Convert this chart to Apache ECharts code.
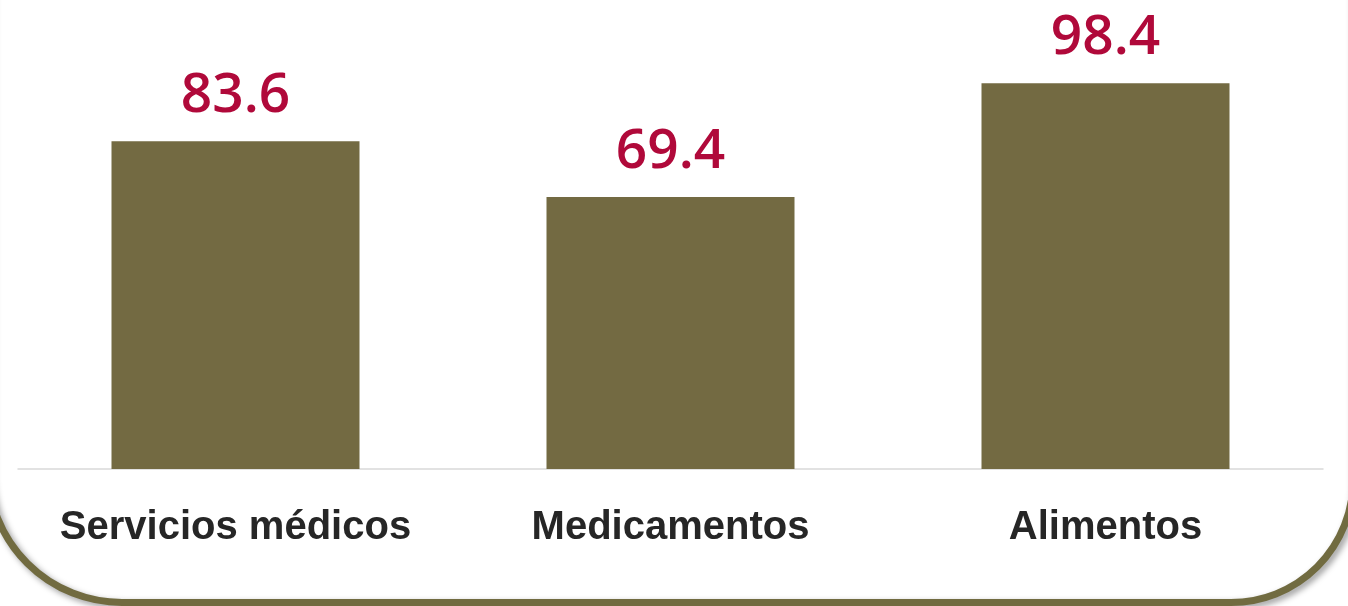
<!DOCTYPE html>
<html>
<head>
<meta charset="utf-8">
<script src="https://cdn.jsdelivr.net/npm/echarts@6/dist/echarts.min.js"></script>
<style>
  html, body { margin: 0; padding: 0; background: #fff; }
  #main { width: 1348px; height: 606px; }
</style>
</head>
<body>
<div id="main"></div>
<script>
// datos
const categorias = ['Servicios médicos', 'Medicamentos', 'Alimentos']
const valores = [83.6, 69.4, 98.4]

const chart = echarts.init(document.getElementById('main'))

const option = {
  animation: false,
  backgroundColor: '#fff',
  graphic: [
    {
      // marco redondeado (solo se ve la parte de abajo)
      type: 'rect',
      z: -10,
      silent: true,
      shape: { x: -12, y: -200, width: 1365, height: 802.5, r: [0, 0, 122, 134] },
      style: {
        fill: 'none',
        stroke: '#716B40',
        lineWidth: 7,
        shadowBlur: 6,
        shadowOffsetX: 3,
        shadowOffsetY: 3,
        shadowColor: 'rgba(0,0,0,0.4)',
      },
    },
  ],
  grid: {
    left: 18,
    right: 25,
    top: 77,
    bottom: 137,
    containLabel: false,
  },
  xAxis: {
    type: 'category',
    data: categorias,
    axisLine: { lineStyle: { color: '#D9D9D9', width: 1.5 } },
    axisTick: { show: false },
    axisLabel: {
      interval: 0,
      margin: 39,
      color: '#262626',
      fontFamily: '"Liberation Sans", Arial, sans-serif',
      fontWeight: 'bold',
      fontSize: 40,
    },
  },
  yAxis: {
    type: 'value',
    min: 0,
    max: 100,
    show: false,
    splitLine: { show: false },
  },
  series: [
    {
      type: 'bar',
      data: valores,
      barWidth: 248,
      itemStyle: { color: '#736A42' },
      label: {
        show: true,
        position: 'top',
        distance: 17,
        color: '#B0093A',
        fontFamily: '"Open Sans", sans-serif',
        fontWeight: 600,
        fontSize: 55,
        formatter: (p) => p.value.toFixed(1),
      },
    },
  ],
}

option && chart.setOption(option)
</script>
</body>
</html>
